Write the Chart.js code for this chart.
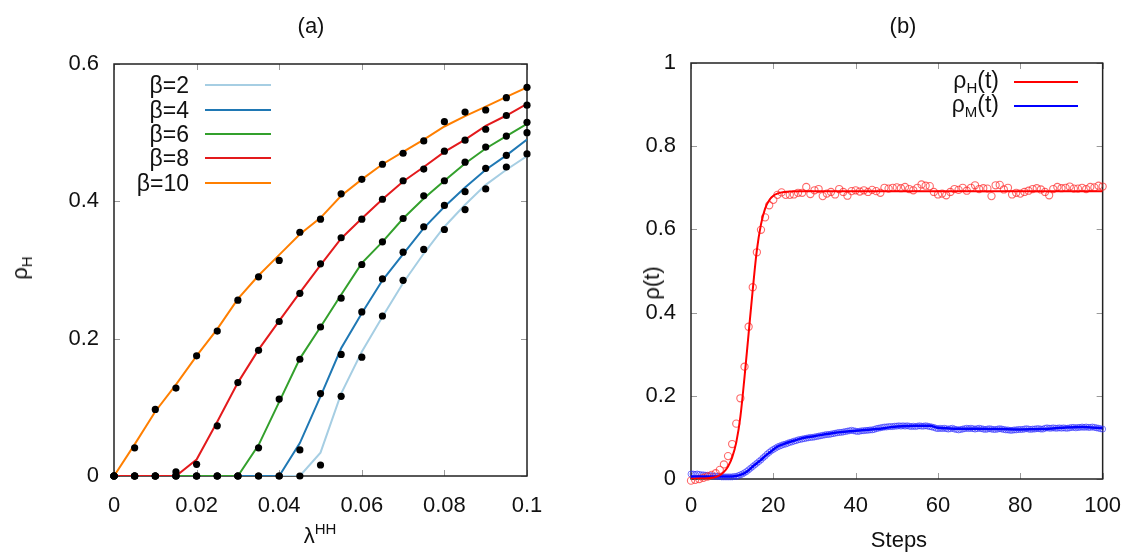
<!DOCTYPE html>
<html>
<head>
<meta charset="utf-8">
<script src="https://cdn.jsdelivr.net/npm/chart.js@4.4.1/dist/chart.umd.min.js"></script>
<style>
  html, body { margin: 0; padding: 0; background: #fff; }
  body { width: 1135px; height: 552px; position: relative; overflow: hidden;
         font-family: "Liberation Sans", Arial, sans-serif; color: #111; }
  .panel { position: absolute; top: 0; height: 552px; }
  .txt { position: absolute; white-space: nowrap; font-size: 22px; line-height: 26px; }
  .leg { font-size: 23px; }
  .c { transform: translate(-50%, -50%); }
  .rot { transform: translate(-50%, -50%) rotate(-90deg); }
  .key { position: absolute; height: 2px; }
  sub { font-size: 15px; vertical-align: -5px; line-height: 0; }
  sup { font-size: 15px; vertical-align: 9px; line-height: 0; }
</style>
</head>
<body>

<div class="panel" style="left:0;width:580px"><canvas id="chartA"></canvas></div>
<div class="panel" style="left:580px;width:555px"><canvas id="chartB"></canvas></div>

<div class="txt c" style="left:311px;top:26px;font-size:22px">(a)</div>
<div class="txt c" style="left:903px;top:26px;font-size:22px">(b)</div>
<div class="txt rot" style="left:20px;top:268px">ρ<sub>H</sub></div>
<div class="txt rot" style="left:652px;top:283px">ρ(t)</div>
<div class="txt c" style="left:320px;top:536px">λ<sup>HH</sup></div>
<div class="txt c" style="left:899px;top:540px">Steps</div>

<div id="legendA"></div>
<div id="legendB"></div>

<script>
// ---- panel (a): rho_H vs lambda^HH ----
const lambdaHH = [0, 0.005, 0.01, 0.015, 0.02, 0.025, 0.03, 0.035, 0.04, 0.045, 0.05,
                  0.055, 0.06, 0.065, 0.07, 0.075, 0.08, 0.085, 0.09, 0.095, 0.1];

const betaNames = ['β=2', 'β=4', 'β=6', 'β=8', 'β=10'];
const betaColors = ['#a6cee3', '#1f78b4', '#33a02c', '#e31a1c', '#ff7f00'];

// theory lines
const beta2Line  = [0, 0, 0, 0, 0, 0, 0, 0, 0, 0, 0.034, 0.120, 0.181, 0.232, 0.281, 0.324, 0.363, 0.395, 0.424, 0.446, 0.466];
const beta4Line  = [0, 0, 0, 0, 0, 0, 0, 0, 0, 0.048, 0.116, 0.186, 0.237, 0.285, 0.323, 0.361, 0.392, 0.420, 0.446, 0.467, 0.490];
const beta6Line  = [0, 0, 0, 0, 0, 0, 0, 0.045, 0.108, 0.171, 0.217, 0.264, 0.310, 0.341, 0.375, 0.404, 0.430, 0.455, 0.477, 0.495, 0.513];
const beta8Line  = [0, 0, 0, 0, 0.024, 0.079, 0.136, 0.184, 0.226, 0.267, 0.307, 0.346, 0.375, 0.403, 0.429, 0.450, 0.472, 0.490, 0.510, 0.525, 0.542];
const beta10Line = [0, 0.046, 0.094, 0.133, 0.175, 0.214, 0.258, 0.292, 0.322, 0.352, 0.376, 0.408, 0.432, 0.454, 0.472, 0.490, 0.509, 0.524, 0.538, 0.552, 0.566];

// simulation dots
const beta2Sim  = [0, 0, 0, 0, 0, 0, 0, 0, 0, 0, 0.016, 0.116, 0.173, 0.233, 0.285, 0.330, 0.359, 0.388, 0.418, 0.450, 0.469];
const beta4Sim  = [0, 0, 0, 0, 0, 0, 0, 0, 0, 0.038, 0.120, 0.177, 0.239, 0.287, 0.326, 0.363, 0.394, 0.414, 0.448, 0.467, 0.500];
const beta6Sim  = [0, 0, 0, 0, 0, 0, 0, 0.041, 0.112, 0.170, 0.217, 0.259, 0.308, 0.341, 0.375, 0.408, 0.430, 0.457, 0.479, 0.495, 0.515];
const beta8Sim  = [0, 0, 0, 0.006, 0.017, 0.073, 0.136, 0.183, 0.225, 0.266, 0.309, 0.347, 0.374, 0.403, 0.430, 0.447, 0.473, 0.489, 0.505, 0.525, 0.540];
const beta10Sim = [0, 0.041, 0.097, 0.128, 0.175, 0.211, 0.256, 0.290, 0.314, 0.355, 0.374, 0.411, 0.432, 0.454, 0.470, 0.488, 0.516, 0.530, 0.533, 0.551, 0.566];

// ---- panel (b): rho(t) vs steps ----
const redSteps = [0,1,2,3,4,5,6,7,8,9,10,11,12,13,14,15,16,17,18,19,20,21,22,23,24,25,26,27,28,29,30,
  31,32,33,34,35,36,37,38,39,40,41,42,43,44,45,46,47,48,49,50,51,52,53,54,55,56,57,58,59,60,
  61,62,63,64,65,66,67,68,69,70,71,72,73,74,75,76,77,78,79,80,81,82,83,84,85,86,87,88,89,90,
  91,92,93,94,95,96,97,98,99,100];
const rhoHSim = [
  -0.004, -0.002, 0.000, 0.003, 0.006, 0.010, 0.014, 0.022, 0.035, 0.055,
  0.084, 0.133, 0.194, 0.270, 0.366, 0.461, 0.545, 0.599, 0.629, 0.658,
  0.671, 0.683, 0.689, 0.683, 0.683, 0.684, 0.688, 0.688, 0.702, 0.685,
  0.694, 0.697, 0.680, 0.686, 0.690, 0.684, 0.697, 0.690, 0.681, 0.692,
  0.694, 0.691, 0.694, 0.690, 0.695, 0.692, 0.688, 0.700, 0.698, 0.700,
  0.701, 0.699, 0.702, 0.697, 0.694, 0.700, 0.708, 0.705, 0.704, 0.690,
  0.684, 0.686, 0.682, 0.690, 0.697, 0.695, 0.700, 0.693, 0.700, 0.706,
  0.697, 0.699, 0.698, 0.680, 0.706, 0.707, 0.696, 0.700, 0.684, 0.688,
  0.686, 0.690, 0.693, 0.697, 0.699, 0.696, 0.690, 0.682, 0.697, 0.702,
  0.699, 0.700, 0.703, 0.698, 0.698, 0.700, 0.697, 0.702, 0.701, 0.705,
  0.703];

// blue circles are sampled every half step
const rhoMSim = [
  0.012, 0.012, 0.011, 0.012, 0.011, 0.010, 0.010, 0.009, 0.009, 0.008, 0.008, 0.007, 0.007, 0.006, 0.006, 0.005, 0.005, 0.005, 0.005, 0.005,
  0.005, 0.006, 0.006, 0.008, 0.010, 0.012, 0.015, 0.018, 0.022, 0.026, 0.030, 0.034, 0.038, 0.042, 0.046, 0.051, 0.055, 0.060, 0.064, 0.068,
  0.071, 0.074, 0.077, 0.079, 0.081, 0.083, 0.084, 0.086, 0.088, 0.089, 0.091, 0.092, 0.094, 0.095, 0.096, 0.097, 0.098, 0.099, 0.100, 0.100,
  0.101, 0.102, 0.103, 0.104, 0.105, 0.106, 0.107, 0.107, 0.108, 0.109, 0.110, 0.111, 0.112, 0.112, 0.113, 0.114, 0.115, 0.116, 0.117, 0.116,
  0.115, 0.114, 0.115, 0.116, 0.116, 0.117, 0.117, 0.118, 0.118, 0.119, 0.121, 0.122, 0.123, 0.124, 0.125, 0.125, 0.126, 0.126, 0.126, 0.127,
  0.127, 0.128, 0.127, 0.128, 0.127, 0.128, 0.127, 0.126, 0.127, 0.126, 0.127, 0.128, 0.127, 0.127, 0.128, 0.127, 0.126, 0.125, 0.124, 0.122,
  0.121, 0.122, 0.121, 0.122, 0.121, 0.120, 0.121, 0.122, 0.120, 0.119, 0.118, 0.119, 0.120, 0.121, 0.122, 0.121, 0.122, 0.121, 0.120, 0.121,
  0.122, 0.121, 0.120, 0.119, 0.120, 0.121, 0.120, 0.119, 0.119, 0.120, 0.121, 0.120, 0.119, 0.118, 0.118, 0.117, 0.117, 0.118, 0.118, 0.119,
  0.119, 0.119, 0.120, 0.121, 0.120, 0.119, 0.120, 0.120, 0.121, 0.121, 0.120, 0.120, 0.122, 0.123, 0.122, 0.122, 0.123, 0.122, 0.122, 0.123,
  0.122, 0.123, 0.122, 0.122, 0.123, 0.124, 0.124, 0.123, 0.124, 0.124, 0.125, 0.124, 0.125, 0.124, 0.124, 0.125, 0.124, 0.123, 0.122, 0.121,
  0.120];

const redLineSteps = [0, 2, 4, 5, 6, 7, 8, 9, 10, 11, 12, 13, 14, 15, 16, 17, 18, 19, 20, 21, 22, 23, 24, 26, 30, 40, 50, 60, 70, 80, 90, 100];
const rhoHLine = [0, 0.001, 0.002, 0.003, 0.005, 0.009, 0.017, 0.030, 0.052, 0.088, 0.150, 0.245, 0.350, 0.455, 0.550, 0.612,
                  0.650, 0.670, 0.681, 0.686, 0.689, 0.690, 0.691, 0.692, 0.692, 0.692, 0.692, 0.692, 0.692, 0.692, 0.692, 0.692];

const blueLineSteps = [0, 5, 10, 11, 12, 13, 14, 15, 16, 17, 18, 19, 20, 21, 22, 23, 25, 27, 30, 35, 40, 45, 50, 55, 58, 60, 62, 65, 70, 75, 80, 85, 90, 95, 100];
const rhoMLine = [0.006, 0.006, 0.006, 0.007, 0.010, 0.014, 0.021, 0.030, 0.038, 0.046, 0.055, 0.063, 0.071, 0.078, 0.082, 0.086,
                  0.092, 0.098, 0.103, 0.111, 0.116, 0.120, 0.126, 0.128, 0.128, 0.123, 0.122, 0.121, 0.121, 0.120, 0.119, 0.120, 0.123, 0.125, 0.122];

const seriesNames = ['ρH(t)', 'ρM(t)'];
const seriesColors = ['#ff0000', '#0000ff'];

// ---------------------------------------------------------------
Chart.defaults.font.family = '"Liberation Sans", Arial, sans-serif';
Chart.defaults.font.size = 22;
Chart.defaults.color = '#111';

const pair = (xs, ys) => ys.map((v, i) => ({ x: xs[i], y: v }));
const fmt = v => String(+Number(v).toFixed(2));

// gnuplot style box with inward ticks on all sides
const framePlugin = {
    id: 'frame',
    beforeDatasetsDraw(chart) {
        const { ctx, chartArea: a, scales } = chart;
        ctx.save();
        ctx.strokeStyle = '#9a9a9a';
        ctx.lineWidth = 1;
        ctx.beginPath();
        scales.x.ticks.forEach(t => {
            const p = Math.round(scales.x.getPixelForValue(t.value)) + 0.5;
            ctx.moveTo(p, a.bottom); ctx.lineTo(p, a.bottom - 6);
            ctx.moveTo(p, a.top); ctx.lineTo(p, a.top + 6);
        });
        scales.y.ticks.forEach(t => {
            const p = Math.round(scales.y.getPixelForValue(t.value)) + 0.5;
            ctx.moveTo(a.left, p); ctx.lineTo(a.left + 6, p);
            ctx.moveTo(a.right, p); ctx.lineTo(a.right - 6, p);
        });
        ctx.stroke();
        ctx.strokeStyle = '#222';
        ctx.lineWidth = 1.5;
        ctx.strokeRect(a.left, a.top, a.right - a.left, a.bottom - a.top);
        ctx.restore();
    }
};

function axis(min, max, step, size, pad) {
    return {
        type: 'linear', min: min, max: max,
        grid: { display: false, drawTicks: false },
        border: { display: false },
        ticks: { stepSize: step, padding: pad, callback: fmt, color: '#111' },
        afterFit: s => { if (s.isHorizontal()) s.height = size; else s.width = size; }
    };
}

// Chart (a)
const betaLines = [beta2Line, beta4Line, beta6Line, beta8Line, beta10Line];
const betaSims = [beta2Sim, beta4Sim, beta6Sim, beta8Sim, beta10Sim];
const dsA = [];
betaSims.forEach((sim, i) => {
    dsA.push({
        type: 'scatter', data: pair(lambdaHH, sim), order: 0, clip: false,
        pointRadius: 3.6, pointBackgroundColor: '#000', pointBorderWidth: 0, showLine: false
    });
});
betaLines.forEach((line, i) => {
    dsA.push({
        type: 'line', label: betaNames[i], data: pair(lambdaHH, line), order: 5 - i,
        borderColor: betaColors[i], borderWidth: 2, pointRadius: 0, tension: 0, fill: false
    });
});

new Chart(document.getElementById('chartA'), {
    type: 'line',
    data: { datasets: dsA },
    options: {
        responsive: true, maintainAspectRatio: false, animation: false,
        layout: { padding: { left: 0, top: 64, right: 53, bottom: 0 } },
        plugins: { legend: { display: false }, tooltip: { enabled: false } },
        scales: {
            x: axis(0, 0.1, 0.02, 76, 17),
            y: axis(0, 0.6, 0.2, 114, 15)
        }
    },
    plugins: [framePlugin]
});

// Chart (b)
const halfSteps = rhoMSim.map((v, i) => i / 2);
new Chart(document.getElementById('chartB'), {
    type: 'line',
    data: {
        datasets: [
            { type: 'line', label: seriesNames[0], data: pair(redLineSteps, rhoHLine), order: 0,
              borderColor: seriesColors[0], borderWidth: 2, pointRadius: 0, cubicInterpolationMode: 'monotone' },
            { type: 'line', label: seriesNames[1], data: pair(blueLineSteps, rhoMLine), order: 0,
              borderColor: seriesColors[1], borderWidth: 2.5, pointRadius: 0, cubicInterpolationMode: 'monotone' },
            { type: 'scatter', data: pair(redSteps, rhoHSim), order: 1, clip: false, showLine: false,
              pointRadius: 3.6, pointBorderWidth: 1.1, pointBorderColor: 'rgba(255,40,40,0.7)', pointBackgroundColor: 'rgba(0,0,0,0)' },
            { type: 'scatter', data: pair(halfSteps, rhoMSim), order: 1, clip: false, showLine: false,
              pointRadius: 3, pointBorderWidth: 1, pointBorderColor: 'rgba(40,40,255,0.6)', pointBackgroundColor: 'rgba(0,0,0,0)' }
        ]
    },
    options: {
        responsive: true, maintainAspectRatio: false, animation: false,
        layout: { padding: { left: 0, top: 63, right: 28, bottom: 0 } },
        plugins: { legend: { display: false }, tooltip: { enabled: false } },
        scales: {
            x: axis(0, 100, 20, 73, 14),
            y: axis(0, 1, 0.2, 111, 15)
        }
    },
    plugins: [framePlugin]
});

// legends (text + line sample, placed like gnuplot keys)
const legA = document.getElementById('legendA');
const rowsA = [85, 110, 134, 158, 183];
betaNames.forEach((name, i) => {
    legA.insertAdjacentHTML('beforeend',
        `<div class="txt leg" style="left:0;width:189px;text-align:right;top:${rowsA[i] - 13}px">${name}</div>` +
        `<div class="key" style="left:205px;width:66px;top:${rowsA[i] - 1}px;background:${betaColors[i]}"></div>`);
});
const legB = document.getElementById('legendB');
const rowsB = [82, 106];
const subs = ['H', 'M'];
seriesNames.forEach((name, i) => {
    legB.insertAdjacentHTML('beforeend',
        `<div class="txt leg" style="left:800px;width:199px;text-align:right;top:${rowsB[i] - 15}px">ρ<sub>${subs[i]}</sub>(t)</div>` +
        `<div class="key" style="left:1014px;width:64px;top:${rowsB[i] - 1}px;background:${seriesColors[i]}"></div>`);
});
</script>
</body>
</html>
